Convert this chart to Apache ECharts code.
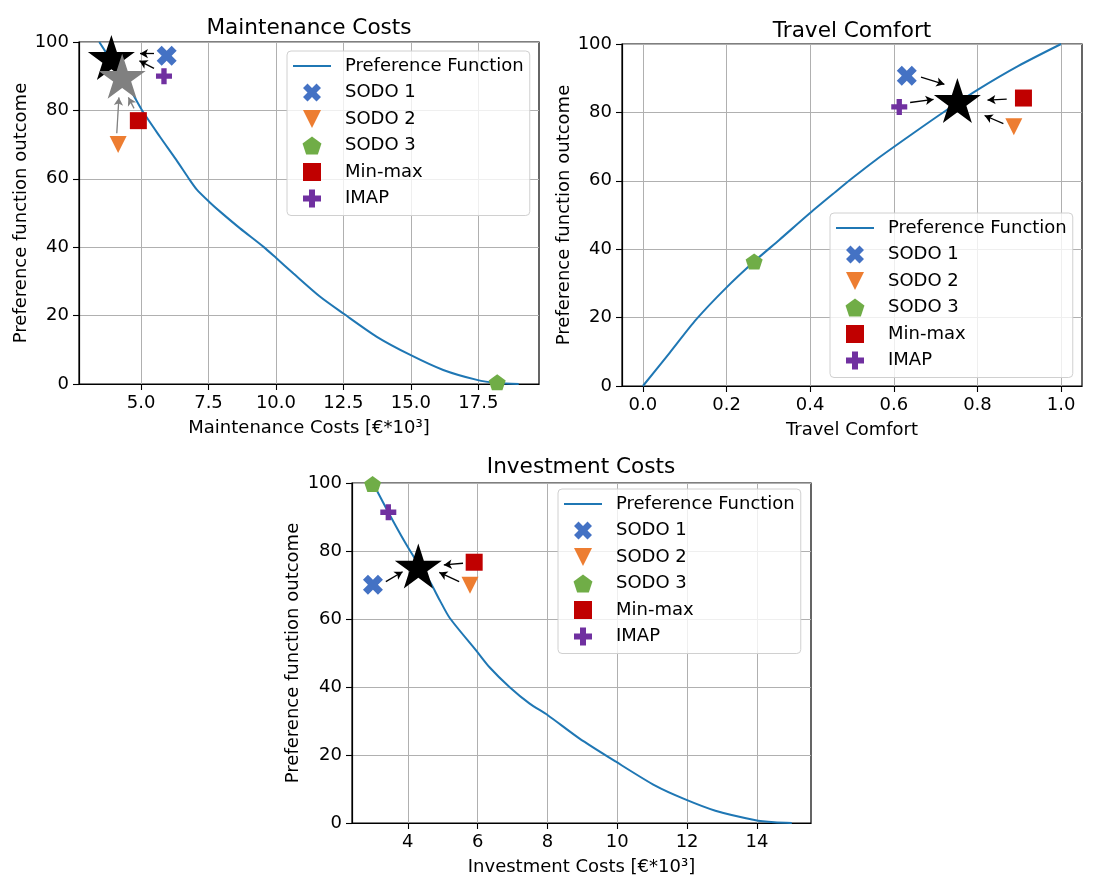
<!DOCTYPE html>
<html>
<head>
<meta charset="utf-8">
<script src="https://cdn.jsdelivr.net/npm/echarts@6/dist/echarts.min.js"></script>
<style>
html,body{margin:0;padding:0;background:#fff;}
#chart{width:1105px;height:880px;}
</style>
</head>
<body>
<div id="chart"></div>
<script>
// ---------- data ----------
const methods = ['SODO 1', 'SODO 2', 'SODO 3', 'Min-max', 'IMAP'];

// Maintenance Costs
const maintCurve = [[3.45,100],[3.97,93.7],[4.47,87.9],[5.03,80.1],[5.7,72.3],[6.3,65.6],[6.75,60.3],[7.06,56.9],[7.52,53.3],[7.93,50.4],[8.67,45.5],[9.54,40.1],[10.0,36.9],[10.65,32.3],[11.64,25.5],[12.5,20.6],[13.74,13.8],[14.98,8.5],[16.2,4.1],[17.45,1.2],[18.2,0.3],[19.0,0]];
const maintX = [5.95, 4.15, 18.2, 4.9, 5.85];
const maintY = [96, 70, 0.5, 77, 90];
const maintStar = [3.9, 95.5];
const maintStarGrey = [4.3, 90];
const maintArrows = [[5.48,96.6,4.96,96.6],[5.48,92.3,4.94,94.5]];
const maintArrowsGrey = [[4.10,73.3,4.18,83.8],[4.74,80.6,4.53,83.8]];
const maintTicks = [5, 7.5, 10, 12.5, 15, 17.5];

// Travel Comfort
const travelCurve = [[0,0],[0.064,9.7],[0.127,19.4],[0.199,28.7],[0.266,36.4],[0.326,42.7],[0.399,50.5],[0.461,56.8],[0.501,60.8],[0.557,66.1],[0.643,73.6],[0.723,80.4],[0.803,86.8],[0.898,93.6],[1.0,100]];
const travelX = [0.631, 0.887, 0.266, 0.910, 0.613];
const travelY = [90.7, 75.8, 36.4, 84.2, 81.6];
const travelStar = [0.752, 83.5];
const travelArrows = [[0.665,90.3,0.721,88.2],[0.639,82.9,0.695,83.8],[0.870,83.9,0.824,83.6],[0.862,76.7,0.817,79.1]];
const travelTicks = [0, 0.2, 0.4, 0.6, 0.8, 1.0];

// Investment Costs
const investCurve = [[3.0,100],[3.44,91.4],[3.91,82.7],[4.2,77.8],[4.63,71.0],[4.91,65.6],[5.2,60.3],[5.96,50.7],[6.34,45.8],[6.91,40.0],[7.49,35.1],[8.01,31.7],[8.91,24.9],[9.95,18.1],[11.1,10.9],[11.93,7.0],[12.81,3.6],[13.93,0.9],[14.5,0.2],[15.0,0]];
const investX = [3.0, 5.78, 2.99, 5.9, 3.44];
const investY = [70.1, 69.9, 99.7, 76.7, 91.4];
const investStar = [4.3, 75.6];
const investArrows = [[3.37,71.0,3.85,73.9],[5.58,76.4,5.03,75.9],[5.47,71.0,4.9,73.7]];
const investTicks = [4, 6, 8, 10, 12, 14];

// ---------- styling ----------
const FONT = 'DejaVu Sans';
const colors = ['#4472c4', '#ed7d31', '#70ad47', '#c00000', '#7030a0'];
const P_X = 'path://M75,0 L100,25 L75,50 L100,75 L75,100 L50,75 L25,100 L0,75 L25,50 L0,25 L25,0 L50,25 Z';
const P_TRI = 'path://M0,0 L100,0 L50,100 Z';
const P_PENT = 'path://M100,0 L195.1,69.1 L158.8,180.9 L41.2,180.9 L4.9,69.1 Z';
const P_SQ = 'path://M0,0 L10,0 L10,10 L0,10 Z';
const P_PLUS = 'path://M2,0 L4,0 L4,2 L6,2 L6,4 L4,4 L4,6 L2,6 L2,4 L0,4 L0,2 L2,2 Z';
const P_STAR = 'path://M100,0 L122.45,69.1 L195.11,69.1 L136.33,111.8 L158.78,180.9 L100,138.2 L41.22,180.9 L63.67,111.8 L4.89,69.1 L77.55,69.1 Z';
const P_LINE = 'path://M0,0 L38,0 L38,2 L0,2 Z';
const symbols = [P_X, P_TRI, P_PENT, P_SQ, P_PLUS];
const sizes = [[20,20],[17,17],[17,16],[17,17],[16,16]];

const panels = [
  {title:'Maintenance Costs', xName:'Maintenance Costs [€*10³]', curve:maintCurve, xs:maintX, ys:maintY, star:maintStar, grey:maintStarGrey, arrows:maintArrows, greyArrows:maintArrowsGrey, ticks:maintTicks, min:2.7, max:19.75, dec:1,
   grid:{left:79, top:42, width:460, height:342}, titlePos:[309,17], legendPos:[287,51], yGap:48},
  {title:'Travel Comfort', xName:'Travel Comfort', curve:travelCurve, xs:travelX, ys:travelY, star:travelStar, grey:null, arrows:travelArrows, greyArrows:[], ticks:travelTicks, min:-0.05, max:1.05, dec:1,
   grid:{left:622, top:44, width:460, height:342}, titlePos:[852,20], legendPos:[830,213], yGap:48},
  {title:'Investment Costs', xName:'Investment Costs [€*10³]', curve:investCurve, xs:investX, ys:investY, star:investStar, grey:null, arrows:investArrows, greyArrows:[], ticks:investTicks, min:2.4, max:15.55, dec:0,
   grid:{left:352, top:483, width:459, height:340}, titlePos:[581,456], legendPos:[558,489], yGap:50}
];

const grids = [], xAxes = [], yAxes = [], series = [], titles = [], legends = [];

function arrowData(list, color) {
  return list.map(a => [
    {coord:[a[0], a[1]], lineStyle:{color:color}},
    {coord:[a[2], a[3]]}
  ]);
}

const legendData = [{name:'Preference Function', icon:P_LINE}].concat(methods.map((m, i) => ({name:m, icon:symbols[i]})));

panels.forEach((p, g) => {
  grids.push(Object.assign({show:true, borderColor:'#000', borderWidth:1.2, backgroundColor:'transparent', outerBoundsMode:'none', containLabel:false}, p.grid));
  titles.push({text:p.title, left:p.titlePos[0], top:p.titlePos[1], textAlign:'center', padding:0,
    textStyle:{fontFamily:FONT, fontSize:21.6, fontWeight:'normal', color:'#000'}});
  xAxes.push({type:'value', gridIndex:g, min:p.min, max:p.max,
    name:p.xName, nameLocation:'middle', nameGap:35,
    nameTextStyle:{fontFamily:FONT, fontSize:18, color:'#000'},
    axisLine:{show:true, onZero:false, lineStyle:{color:'#000', width:1.2}},
    axisTick:{show:true, length:6, customValues:p.ticks, lineStyle:{color:'#000', width:1.1}},
    axisLabel:{show:true, margin:10, customValues:p.ticks, fontFamily:FONT, fontSize:18, color:'#000',
      formatter: v => Number(v).toFixed(p.dec)},
    splitLine:{show:true, lineStyle:{color:'#b0b0b0', width:1}}
  });
  yAxes.push({type:'value', gridIndex:g, min:0, max:100, interval:20,
    name:'Preference function outcome', nameLocation:'middle', nameGap:p.yGap,
    nameTextStyle:{fontFamily:FONT, fontSize:18, color:'#000'},
    axisLine:{show:true, onZero:false, lineStyle:{color:'#000', width:1.2}},
    axisTick:{show:true, length:6, lineStyle:{color:'#000', width:1.1}},
    axisLabel:{show:true, margin:10, fontFamily:FONT, fontSize:18, color:'#000'},
    splitLine:{show:true, lineStyle:{color:'#b0b0b0', width:1}}
  });

  series.push({type:'line', name:'Preference Function', xAxisIndex:g, yAxisIndex:g,
    data:p.curve, symbol:'none', showSymbol:false, z:2, smooth:0.25,
    lineStyle:{color:'#1f77b4', width:2}, itemStyle:{color:'#1f77b4'}, emphasis:{disabled:true}});

  methods.forEach((m, i) => {
    series.push({type:'scatter', name:m, xAxisIndex:g, yAxisIndex:g,
      data:[[p.xs[i], p.ys[i]]], symbol:symbols[i], symbolSize:sizes[i], z:3,
      itemStyle:{color:colors[i], opacity:1}, emphasis:{disabled:true}});
  });

  series.push({type:'scatter', name:'Optimum', xAxisIndex:g, yAxisIndex:g,
    data:[p.star], symbol:P_STAR, symbolSize:[47,45], z:4,
    itemStyle:{color:'#000', opacity:1}, emphasis:{disabled:true},
    markLine:{silent:true, animation:false, symbol:['none','arrow'], symbolSize:[7,8],
      label:{show:false}, lineStyle:{type:'solid', width:1.3, color:'#000'},
      emphasis:{disabled:true},
      data:arrowData(p.arrows, '#000')}
  });
  if (p.grey) {
    series.push({type:'scatter', name:'Optimum (grey)', xAxisIndex:g, yAxisIndex:g,
      data:[p.grey], symbol:P_STAR, symbolSize:[47,45], z:5,
      itemStyle:{color:'#808080', opacity:1}, emphasis:{disabled:true},
      markLine:{silent:true, animation:false, symbol:['none','arrow'], symbolSize:[7,8],
        label:{show:false}, lineStyle:{type:'solid', width:1.3, color:'#808080'},
        emphasis:{disabled:true},
        data:arrowData(p.greyArrows, '#808080')}
    });
  }

  legends.push({show:true, orient:'vertical', left:p.legendPos[0], top:p.legendPos[1],
    data:legendData, selectedMode:false,
    itemWidth:38, itemHeight:18, itemGap:8.5, padding:[6,6,8,6],
    backgroundColor:'rgba(255,255,255,0.8)', borderColor:'#d0d0d0', borderWidth:1, borderRadius:4,
    textStyle:{fontFamily:FONT, fontSize:18, color:'#000', padding:[0,0,0,9]}, z:10});
});

const chart = echarts.init(document.getElementById('chart'), null, {renderer:'canvas'});
chart.setOption({
  animation:false,
  backgroundColor:'#fff',
  title:titles,
  legend:legends,
  grid:grids,
  xAxis:xAxes,
  yAxis:yAxes,
  series:series
});
</script>
</body>
</html>
